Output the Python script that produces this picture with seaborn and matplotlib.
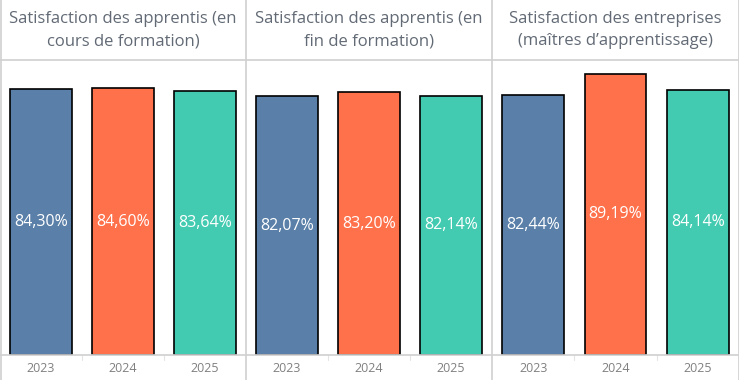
import matplotlib
matplotlib.use("Agg")
import matplotlib.pyplot as plt
from matplotlib.lines import Line2D
import seaborn as sns
import pandas as pd

# Data
titles = [
    "Satisfaction des apprentis (en\ncours de formation)",
    "Satisfaction des apprentis (en\nfin de formation)",
    "Satisfaction des entreprises\n(maîtres d\u2019apprentissage)",
]
years = ["2023", "2024", "2025"]
en_cours = [84.30, 84.60, 83.64]
fin_formation = [82.07, 83.20, 82.14]
entreprises = [82.44, 89.19, 84.14]
colors = ["#5a7fa8", "#ff714b", "#43cbb1"]

sns.set_style("white")
plt.rcParams["font.family"] = ["Open Sans", "DejaVu Sans"]

W, H = 739, 380
fig = plt.figure(figsize=(W / 100, H / 100), dpi=100)

panel_edges = [0, 246, 492, 739]
y_top, y_bot = 60, 355
grid = "#d0d0d0"

for i, vals in enumerate([en_cours, fin_formation, entreprises]):
    x0, x1 = panel_edges[i], panel_edges[i + 1]
    ax = fig.add_axes([x0 / W, (H - y_bot) / H, (x1 - x0) / W, (y_bot - y_top) / H])
    df = pd.DataFrame({"year": years, "val": vals})
    sns.barplot(data=df, x="year", y="val", hue="year", palette=colors, saturation=1,
                edgecolor="black", linewidth=1.2, width=0.75, legend=False, ax=ax)
    ax.set_ylim(0, 93.5)
    ax.set_xlim(-0.5, 2.5)
    ax.set_xlabel("")
    ax.set_ylabel("")
    ax.set_yticks([])
    ax.tick_params(axis="x", length=0, pad=5, labelsize=9, labelcolor="#808080")
    for s in ax.spines.values():
        s.set_visible(False)
    for j, v in enumerate(vals):
        ax.text(j, v / 2, f"{v:.2f}%".replace(".", ","), ha="center", va="center",
                color="white", fontsize=11.5)
    # header title
    fig.text((x0 + x1) / 2 / W, 1 - 30 / H, titles[i], ha="center", va="center",
             fontsize=12, color="#626a75", linespacing=1.55)
    # small ticks between year labels
    for k in (1, 2):
        xp = x0 + (x1 - x0) * k / 3
        fig.add_artist(Line2D([xp / W, xp / W], [(H - y_bot) / H, (H - y_bot - 5) / H],
                              color="#e4e4e4", lw=0.8))

# frame lines
for xp in [0.5, 246, 492, 738.5]:
    fig.add_artist(Line2D([xp / W, xp / W], [0, 1], color=grid, lw=1.2))
for yp in [y_top, y_bot]:
    fig.add_artist(Line2D([0, 1], [(H - yp) / H, (H - yp) / H], color=grid, lw=1.2))

fig.savefig("out.png", dpi=100)
